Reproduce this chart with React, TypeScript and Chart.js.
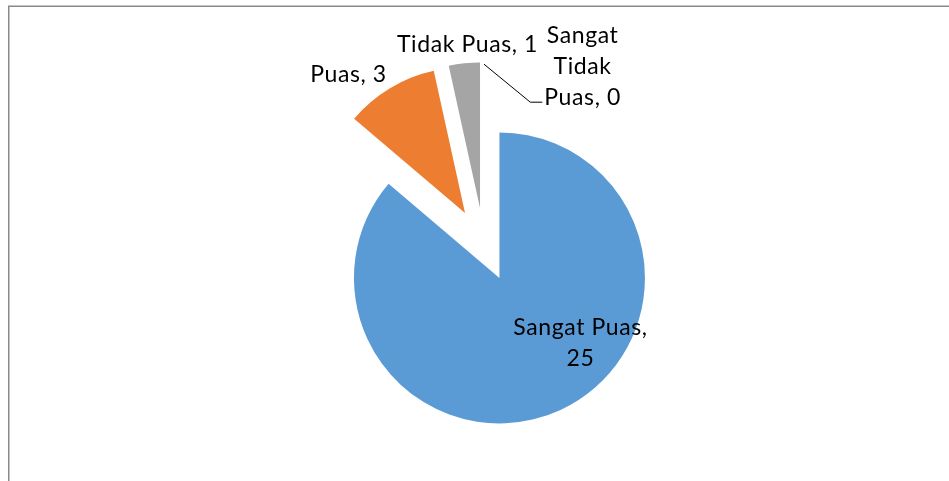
import React, { useEffect, useRef } from "react";
import { Chart, registerables } from "chart.js";

Chart.register(...registerables);

// ---- data ----
const categories = ["Sangat Puas", "Puas", "Tidak Puas", "Sangat Tidak Puas"];
const values = [25, 3, 1, 0];
const colors = ["#5B9BD5", "#ED7D31", "#A5A5A5", "#FFC000"];

// ---- style ----
const EXPLODE = 36.8;
const RADIUS = 145.5;
const FONT_SIZE = 23;
const FONT = `${FONT_SIZE}px Lato`;
const LETTER_SPACING = "0.6px";
const LINE_HEIGHT = 31;
const labelLayout = [
  { dx: 81, dy: 57, wrap: 152, leader: false },
  { dx: -116.5, dy: -131.3, wrap: 200, leader: false },
  { dx: -12.5, dy: -156.3, wrap: 200, leader: false },
  { dx: 98.6, dy: -164.5, wrap: 92, leader: true },
];

function wrapText(ctx: CanvasRenderingContext2D, text: string, maxW: number): string[] {
  const words = text.split(" ");
  const lines: string[] = [];
  let line = words[0];
  for (let i = 1; i < words.length; i++) {
    const test = line + " " + words[i];
    if (ctx.measureText(test).width <= maxW) line = test;
    else {
      lines.push(line);
      line = words[i];
    }
  }
  lines.push(line);
  return lines;
}

const explodePlugin = {
  id: "explodeAll",
  afterDatasetsUpdate(chart: any) {
    const meta = chart.getDatasetMeta(0);
    meta.data.forEach((arc: any) => {
      const mid = (arc.startAngle + arc.endAngle) / 2;
      arc.x += Math.cos(mid) * EXPLODE;
      arc.y += Math.sin(mid) * EXPLODE;
    });
  },
};

const framePlugin = {
  id: "frame",
  beforeDraw(chart: any) {
    const ctx = chart.ctx as CanvasRenderingContext2D;
    ctx.save();
    ctx.fillStyle = "#ffffff";
    ctx.fillRect(0, 0, chart.width, chart.height);
    ctx.strokeStyle = "#898989";
    ctx.lineWidth = 1.5;
    ctx.beginPath();
    ctx.moveTo(8.75, chart.height + 5);
    ctx.lineTo(8.75, 6.25);
    ctx.lineTo(chart.width + 5, 6.25);
    ctx.stroke();
    ctx.restore();
  },
};

const labelPlugin = {
  id: "sliceLabels",
  afterDatasetsDraw(chart: any) {
    const ctx = chart.ctx as CanvasRenderingContext2D;
    const meta = chart.getDatasetMeta(0);
    ctx.save();
    ctx.font = FONT;
    (ctx as any).letterSpacing = LETTER_SPACING;
    ctx.fillStyle = "#000000";
    ctx.textAlign = "center";
    ctx.textBaseline = "alphabetic";
    meta.data.forEach((arc: any, i: number) => {
      const lay = labelLayout[i];
      const text = `${categories[i]}, ${values[i]}`;
      const lines = wrapText(ctx, text, lay.wrap);
      const x = arc.x + lay.dx;
      const y = arc.y + lay.dy;
      lines.forEach((l, j) => ctx.fillText(l, x, y + j * LINE_HEIGHT));
      if (lay.leader) {
        const mid = (arc.startAngle + arc.endAngle) / 2;
        const sx = arc.x + Math.cos(mid) * arc.outerRadius;
        const sy = arc.y + Math.sin(mid) * arc.outerRadius;
        const last = lines[lines.length - 1];
        const w = ctx.measureText(last).width;
        const ex = x - w / 2 - 2;
        const ey = y + (lines.length - 1) * LINE_HEIGHT - 3;
        ctx.strokeStyle = "#000000";
        ctx.lineWidth = 1;
        ctx.beginPath();
        ctx.moveTo(sx, sy + 2);
        ctx.lineTo(ex - 12, ey);
        ctx.lineTo(ex, ey);
        ctx.stroke();
      }
    });
    ctx.restore();
  },
};

export default function App() {
  const ref = useRef<HTMLCanvasElement | null>(null);
  useEffect(() => {
    if (!ref.current) return;
    const chart = new Chart(ref.current, {
      type: "pie",
      data: {
        labels: categories,
        datasets: [
          {
            data: values,
            backgroundColor: colors,
            borderWidth: 0,
          },
        ],
      },
      options: {
        responsive: false,
        animation: false,
        radius: RADIUS,
        layout: { padding: { left: 19, right: 0, top: 8, bottom: 0 } },
        plugins: {
          legend: { display: false },
          tooltip: { enabled: false },
        },
      } as any,
      plugins: [framePlugin, explodePlugin, labelPlugin],
    });
    let alive = true;
    if ((document as any).fonts && (document as any).fonts.load) {
      (document as any).fonts.load(FONT).then(() => {
        if (alive) chart.update();
      });
    }
    return () => {
      alive = false;
      chart.destroy();
    };
  }, []);
  return (
    <div style={{ position: "fixed", left: 0, top: 0, width: 949, height: 481 }}>
      <canvas ref={ref} width={949} height={481} style={{ display: "block" }} />
    </div>
  );
}
